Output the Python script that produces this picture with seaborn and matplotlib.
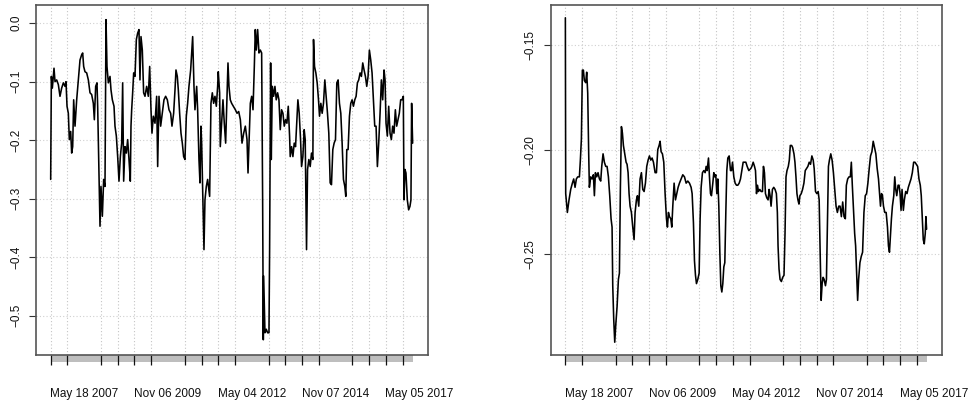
import matplotlib
matplotlib.use("Agg")
import matplotlib.pyplot as plt
import matplotlib.transforms as mtransforms
from matplotlib.patches import Rectangle
from matplotlib.ticker import FixedLocator
import pandas as pd
import seaborn as sns

# ---------------- data (decimal years, values) ----------------
left_year = [
    2006.388, 2006.408, 2006.437, 2006.486, 2006.516, 2006.565, 2006.614, 2006.663, 2006.712, 2006.762,
    2006.811, 2006.840, 2006.870, 2006.909, 2006.938, 2006.978, 2007.007, 2007.037, 2007.066, 2007.106,
    2007.155, 2007.204, 2007.253, 2007.302, 2007.332, 2007.361, 2007.400, 2007.450, 2007.499, 2007.548,
    2007.597, 2007.646, 2007.676, 2007.715, 2007.754, 2007.774, 2007.794, 2007.823, 2007.843, 2007.872,
    2007.912, 2007.951, 2007.990, 2008.020, 2008.049, 2008.089, 2008.138, 2008.167, 2008.207, 2008.256,
    2008.285, 2008.325, 2008.364, 2008.403, 2008.443, 2008.482, 2008.511, 2008.541, 2008.580, 2008.619,
    2008.659, 2008.698, 2008.737, 2008.757, 2008.777, 2008.806, 2008.836, 2008.875, 2008.915, 2008.954,
    2008.993, 2009.022, 2009.052, 2009.091, 2009.130, 2009.170, 2009.219, 2009.268, 2009.308, 2009.347,
    2009.376, 2009.416, 2009.465, 2009.514, 2009.544, 2009.583, 2009.632, 2009.681, 2009.730, 2009.779,
    2009.829, 2009.878, 2009.927, 2009.966, 2010.015, 2010.055, 2010.084, 2010.123, 2010.153, 2010.192,
    2010.232, 2010.271, 2010.310, 2010.349, 2010.389, 2010.428, 2010.467, 2010.517, 2010.546, 2010.576,
    2010.615, 2010.644, 2010.694, 2010.723, 2010.762, 2010.792, 2010.821, 2010.841, 2010.880, 2010.910,
    2010.939, 2010.979, 2011.018, 2011.077, 2011.116, 2011.156, 2011.195, 2011.234, 2011.274, 2011.313,
    2011.332, 2011.372, 2011.391, 2011.431, 2011.470, 2011.509, 2011.549, 2011.588, 2011.618, 2011.647,
    2011.686, 2011.726, 2011.775, 2011.836, 2011.885, 2011.934, 2011.983, 2012.032, 2012.081, 2012.130,
    2012.179, 2012.209, 2012.248, 2012.277, 2012.317, 2012.356, 2012.395, 2012.424, 2012.454, 2012.493,
    2012.532, 2012.572, 2012.611, 2012.640, 2012.660, 2012.670, 2012.709, 2012.748, 2012.787, 2012.827,
    2012.846, 2012.876, 2012.895, 2012.925, 2012.964, 2013.003, 2013.042, 2013.082, 2013.121, 2013.160,
    2013.199, 2013.239, 2013.278, 2013.317, 2013.356, 2013.396, 2013.435, 2013.454, 2013.494, 2013.533,
    2013.572, 2013.611, 2013.651, 2013.680, 2013.719, 2013.759, 2013.788, 2013.827, 2013.866, 2013.896,
    2013.935, 2013.965, 2014.004, 2014.043, 2014.082, 2014.122, 2014.141, 2014.171, 2014.210, 2014.249,
    2014.288, 2014.318, 2014.357, 2014.396, 2014.435, 2014.475, 2014.514, 2014.553, 2014.592, 2014.632,
    2014.671, 2014.710, 2014.749, 2014.789, 2014.828, 2014.867, 2014.906, 2014.946, 2014.985, 2015.024,
    2015.064, 2015.093, 2015.122, 2015.161, 2015.201, 2015.240, 2015.279, 2015.318, 2015.358, 2015.397,
    2015.436, 2015.475, 2015.515, 2015.554, 2015.593, 2015.632, 2015.672, 2015.711, 2015.750, 2015.789,
    2015.829, 2015.868, 2015.907, 2015.947, 2015.986, 2016.025, 2016.064, 2016.104, 2016.143, 2016.182,
    2016.221, 2016.251, 2016.280, 2016.319, 2016.359, 2016.398, 2016.437, 2016.476, 2016.515, 2016.555,
    2016.594, 2016.633, 2016.672, 2016.712, 2016.751, 2016.790, 2016.810, 2016.839, 2016.868, 2016.908,
    2016.947, 2016.986, 2017.015, 2017.035, 2017.065,
]
left_value = [
    -0.267, -0.091, -0.111, -0.077, -0.100, -0.097, -0.105, -0.125, -0.111, -0.102,
    -0.108, -0.100, -0.142, -0.154, -0.199, -0.185, -0.222, -0.211, -0.131, -0.176,
    -0.131, -0.097, -0.063, -0.054, -0.051, -0.074, -0.083, -0.085, -0.097, -0.119,
    -0.122, -0.137, -0.165, -0.108, -0.102, -0.142, -0.199, -0.290, -0.347, -0.279,
    -0.330, -0.267, -0.279, 0.006, -0.074, -0.102, -0.091, -0.114, -0.131, -0.142,
    -0.176, -0.193, -0.228, -0.270, -0.228, -0.205, -0.102, -0.270, -0.211, -0.222,
    -0.199, -0.233, -0.270, -0.176, -0.148, -0.119, -0.085, -0.091, -0.028, -0.017,
    -0.011, -0.097, -0.023, -0.046, -0.119, -0.125, -0.108, -0.125, -0.074, -0.148,
    -0.188, -0.159, -0.171, -0.125, -0.245, -0.125, -0.176, -0.154, -0.131, -0.125,
    -0.131, -0.148, -0.154, -0.176, -0.154, -0.114, -0.080, -0.091, -0.114, -0.154,
    -0.188, -0.205, -0.228, -0.233, -0.159, -0.137, -0.108, -0.080, -0.051, -0.023,
    -0.108, -0.148, -0.108, -0.148, -0.233, -0.273, -0.176, -0.205, -0.313, -0.387,
    -0.302, -0.279, -0.267, -0.296, -0.137, -0.119, -0.137, -0.125, -0.142, -0.108,
    -0.083, -0.119, -0.211, -0.171, -0.131, -0.171, -0.205, -0.125, -0.068, -0.108,
    -0.131, -0.137, -0.142, -0.148, -0.154, -0.151, -0.165, -0.205, -0.188, -0.176,
    -0.199, -0.256, -0.188, -0.137, -0.125, -0.148, -0.074, -0.011, -0.046, -0.011,
    -0.051, -0.046, -0.051, -0.302, -0.541, -0.432, -0.529, -0.523, -0.529, -0.529,
    -0.387, -0.068, -0.233, -0.108, -0.125, -0.108, -0.131, -0.119, -0.131, -0.182,
    -0.148, -0.154, -0.176, -0.165, -0.171, -0.142, -0.193, -0.228, -0.211, -0.228,
    -0.205, -0.211, -0.165, -0.131, -0.154, -0.199, -0.245, -0.228, -0.182, -0.199,
    -0.387, -0.250, -0.233, -0.245, -0.222, -0.233, -0.028, -0.074, -0.085, -0.102,
    -0.131, -0.159, -0.137, -0.154, -0.137, -0.097, -0.125, -0.154, -0.188, -0.273,
    -0.276, -0.216, -0.205, -0.199, -0.102, -0.097, -0.137, -0.154, -0.205, -0.267,
    -0.279, -0.296, -0.216, -0.216, -0.159, -0.137, -0.131, -0.142, -0.131, -0.125,
    -0.102, -0.097, -0.085, -0.091, -0.068, -0.080, -0.091, -0.108, -0.091, -0.046,
    -0.063, -0.085, -0.131, -0.176, -0.176, -0.245, -0.205, -0.154, -0.097, -0.131,
    -0.080, -0.097, -0.171, -0.193, -0.142, -0.188, -0.199, -0.176, -0.188, -0.148,
    -0.176, -0.165, -0.154, -0.131, -0.131, -0.125, -0.302, -0.250, -0.256, -0.302,
    -0.319, -0.313, -0.302, -0.137, -0.205,
]

right_year = [
    2006.388, 2006.398, 2006.447, 2006.496, 2006.546, 2006.595, 2006.634, 2006.674, 2006.713, 2006.752,
    2006.802, 2006.831, 2006.861, 2006.890, 2006.920, 2006.949, 2006.989, 2007.018, 2007.048, 2007.077,
    2007.097, 2007.137, 2007.176, 2007.215, 2007.245, 2007.275, 2007.314, 2007.353, 2007.393, 2007.432,
    2007.462, 2007.501, 2007.540, 2007.580, 2007.619, 2007.659, 2007.698, 2007.737, 2007.767, 2007.787,
    2007.816, 2007.846, 2007.875, 2007.915, 2007.954, 2007.984, 2008.013, 2008.043, 2008.072, 2008.102,
    2008.141, 2008.181, 2008.210, 2008.240, 2008.269, 2008.299, 2008.338, 2008.378, 2008.417, 2008.447,
    2008.486, 2008.516, 2008.555, 2008.594, 2008.634, 2008.673, 2008.713, 2008.752, 2008.791, 2008.831,
    2008.870, 2008.910, 2008.949, 2008.989, 2009.038, 2009.077, 2009.116, 2009.156, 2009.185, 2009.215,
    2009.254, 2009.294, 2009.333, 2009.373, 2009.402, 2009.432, 2009.461, 2009.501, 2009.530, 2009.560,
    2009.599, 2009.639, 2009.678, 2009.717, 2009.757, 2009.806, 2009.855, 2009.905, 2009.954, 2010.003,
    2010.052, 2010.101, 2010.131, 2010.170, 2010.200, 2010.230, 2010.259, 2010.298, 2010.338, 2010.367,
    2010.397, 2010.436, 2010.476, 2010.515, 2010.545, 2010.574, 2010.614, 2010.643, 2010.673, 2010.702,
    2010.742, 2010.771, 2010.801, 2010.830, 2010.860, 2010.889, 2010.919, 2010.949, 2010.978, 2011.008,
    2011.037, 2011.067, 2011.096, 2011.126, 2011.155, 2011.185, 2011.224, 2011.264, 2011.293, 2011.323,
    2011.362, 2011.401, 2011.441, 2011.480, 2011.520, 2011.559, 2011.599, 2011.638, 2011.677, 2011.717,
    2011.756, 2011.805, 2011.865, 2011.895, 2011.934, 2011.973, 2012.002, 2012.032, 2012.061, 2012.090,
    2012.129, 2012.169, 2012.208, 2012.237, 2012.267, 2012.296, 2012.335, 2012.374, 2012.404, 2012.433,
    2012.462, 2012.502, 2012.541, 2012.580, 2012.619, 2012.648, 2012.668, 2012.697, 2012.727, 2012.766,
    2012.805, 2012.844, 2012.874, 2012.903, 2012.932, 2012.971, 2013.001, 2013.030, 2013.069, 2013.099,
    2013.138, 2013.167, 2013.197, 2013.226, 2013.255, 2013.285, 2013.314, 2013.353, 2013.392, 2013.432,
    2013.471, 2013.510, 2013.549, 2013.588, 2013.627, 2013.667, 2013.706, 2013.735, 2013.774, 2013.813,
    2013.853, 2013.882, 2013.911, 2013.941, 2013.970, 2013.999, 2014.029, 2014.068, 2014.097, 2014.127,
    2014.156, 2014.185, 2014.225, 2014.264, 2014.303, 2014.342, 2014.381, 2014.420, 2014.460, 2014.499,
    2014.538, 2014.577, 2014.616, 2014.655, 2014.685, 2014.724, 2014.763, 2014.802, 2014.832, 2014.861,
    2014.900, 2014.930, 2014.959, 2014.988, 2015.018, 2015.047, 2015.086, 2015.125, 2015.164, 2015.204,
    2015.243, 2015.282, 2015.321, 2015.360, 2015.399, 2015.439, 2015.478, 2015.517, 2015.556, 2015.595,
    2015.634, 2015.664, 2015.693, 2015.723, 2015.752, 2015.781, 2015.820, 2015.860, 2015.899, 2015.928,
    2015.958, 2015.987, 2016.016, 2016.045, 2016.085, 2016.114, 2016.143, 2016.173, 2016.212, 2016.241,
    2016.271, 2016.300, 2016.329, 2016.368, 2016.398, 2016.437, 2016.476, 2016.515, 2016.555, 2016.594,
    2016.633, 2016.672, 2016.711, 2016.750, 2016.790, 2016.829, 2016.868, 2016.897, 2016.927, 2016.956,
    2016.985, 2017.015, 2017.034, 2017.054,
]
right_value = [
    -0.137, -0.221, -0.230, -0.224, -0.219, -0.216, -0.214, -0.218, -0.214, -0.213,
    -0.213, -0.205, -0.195, -0.162, -0.162, -0.167, -0.168, -0.163, -0.173, -0.202,
    -0.218, -0.213, -0.214, -0.212, -0.222, -0.211, -0.213, -0.211, -0.214, -0.215,
    -0.208, -0.202, -0.206, -0.208, -0.208, -0.213, -0.222, -0.233, -0.237, -0.265,
    -0.281, -0.292, -0.284, -0.275, -0.262, -0.259, -0.218, -0.189, -0.192, -0.198,
    -0.202, -0.206, -0.207, -0.211, -0.221, -0.227, -0.230, -0.237, -0.243, -0.230,
    -0.224, -0.222, -0.227, -0.214, -0.211, -0.219, -0.220, -0.216, -0.208, -0.205,
    -0.203, -0.205, -0.204, -0.206, -0.211, -0.211, -0.200, -0.198, -0.196, -0.201,
    -0.202, -0.206, -0.221, -0.233, -0.237, -0.230, -0.232, -0.233, -0.237, -0.227,
    -0.216, -0.224, -0.221, -0.218, -0.216, -0.214, -0.212, -0.213, -0.216, -0.215,
    -0.216, -0.218, -0.221, -0.235, -0.253, -0.260, -0.264, -0.262, -0.259, -0.233,
    -0.218, -0.211, -0.210, -0.211, -0.208, -0.210, -0.204, -0.213, -0.221, -0.222,
    -0.216, -0.211, -0.213, -0.212, -0.221, -0.214, -0.227, -0.249, -0.265, -0.268,
    -0.264, -0.256, -0.254, -0.230, -0.210, -0.204, -0.203, -0.210, -0.210, -0.206,
    -0.213, -0.216, -0.217, -0.217, -0.216, -0.214, -0.210, -0.206, -0.206, -0.206,
    -0.208, -0.210, -0.209, -0.208, -0.206, -0.208, -0.210, -0.221, -0.217, -0.220,
    -0.219, -0.220, -0.220, -0.208, -0.211, -0.221, -0.223, -0.224, -0.219, -0.222,
    -0.227, -0.219, -0.218, -0.219, -0.221, -0.230, -0.246, -0.257, -0.262, -0.263,
    -0.261, -0.260, -0.240, -0.213, -0.210, -0.208, -0.205, -0.198, -0.198, -0.199,
    -0.202, -0.206, -0.213, -0.221, -0.224, -0.226, -0.222, -0.221, -0.219, -0.216,
    -0.210, -0.209, -0.208, -0.206, -0.207, -0.203, -0.205, -0.209, -0.220, -0.221,
    -0.220, -0.224, -0.249, -0.272, -0.264, -0.261, -0.262, -0.265, -0.262, -0.233,
    -0.208, -0.205, -0.202, -0.205, -0.211, -0.219, -0.227, -0.230, -0.227, -0.227,
    -0.232, -0.225, -0.232, -0.233, -0.217, -0.214, -0.213, -0.213, -0.206, -0.217,
    -0.230, -0.240, -0.246, -0.259, -0.272, -0.262, -0.254, -0.251, -0.249, -0.230,
    -0.222, -0.221, -0.216, -0.209, -0.203, -0.201, -0.196, -0.199, -0.202, -0.209,
    -0.214, -0.221, -0.227, -0.221, -0.222, -0.227, -0.230, -0.230, -0.237, -0.246,
    -0.249, -0.241, -0.233, -0.227, -0.222, -0.213, -0.219, -0.222, -0.217, -0.217,
    -0.221, -0.229, -0.219, -0.229, -0.224, -0.220, -0.221, -0.218, -0.216, -0.214,
    -0.211, -0.206, -0.206, -0.207, -0.208, -0.214, -0.217, -0.222, -0.233, -0.243,
    -0.245, -0.240, -0.232, -0.238,
]

x_tick_labels = ["May 18 2007", "Nov 06 2009", "May 04 2012", "Nov 07 2014", "May 05 2017"]
label_slots = [2, 7, 12, 17, 22]
left_yticks = [0.0, -0.1, -0.2, -0.3, -0.4, -0.5]
left_yticklabels = ["0.0", "\u22120.1", "\u22120.2", "\u22120.3", "\u22120.4", "\u22120.5"]
right_yticks = [-0.15, -0.20, -0.25]
right_yticklabels = ["\u22120.15", "\u22120.20", "\u22120.25"]

# ---------------- style ----------------
sns.set_style("white")
plt.rcParams["font.family"] = ["Liberation Sans", "DejaVu Sans"]

W, H = 969, 405
fig = plt.figure(figsize=(W / 100, H / 100), dpi=100)
ax1 = fig.add_axes([36 / W, 50 / H, 392 / W, 350 / H])
ax2 = fig.add_axes([550.7 / W, 50 / H, 391.6 / W, 350 / H])

grid_start, grid_step = 2006.388, 0.4944
grid_pos = [grid_start + grid_step * i for i in range(22)]
label_pos = [grid_start + grid_step * i for i in label_slots]


def draw(ax, yrs, vals, ylim, yticks, yticklabels):
    df = pd.DataFrame({"year": yrs, "value": vals})
    sns.lineplot(data=df, x="year", y="value", ax=ax, color="#000000",
                 linewidth=1.15, estimator=None, sort=False)
    ax.set_xlim(2005.955, 2017.518)
    ax.set_ylim(*ylim)
    ax.set_xlabel("")
    ax.set_ylabel("")

    ax.grid(False)
    ax.xaxis.set_major_locator(FixedLocator(label_pos))
    ax.set_xticklabels(x_tick_labels)
    ax.xaxis.set_minor_locator(FixedLocator(grid_pos))
    ax.tick_params(axis="x", which="major", length=0, pad=24, labelsize=8.5,
                   labelcolor="#111111")
    ax.tick_params(axis="x", which="minor", bottom=True, length=7, width=0.9,
                   color="#111111", direction="out")

    ax.set_yticks(yticks)
    ax.set_yticklabels(yticklabels, rotation=90, va="center")
    ax.tick_params(axis="y", which="major", left=True, length=5, width=0.8,
                   color="#333333", pad=5, labelsize=8.5, labelcolor="#111111")

    ax.grid(which="minor", axis="x", color="#c4c4c4", linestyle=(0, (1, 2)), linewidth=0.8)
    ax.grid(which="major", axis="y", color="#d0d0d0", linestyle=(0, (1, 2)), linewidth=0.8)

    for sp in ax.spines.values():
        sp.set_visible(True)
        sp.set_color("#555555")
        sp.set_linewidth(1.2)

    trans = mtransforms.blended_transform_factory(ax.transData, ax.transAxes)
    bar_h = 7 / 350
    ax.add_patch(Rectangle((yrs[0], -bar_h), yrs[-1] - yrs[0], bar_h, transform=trans,
                           clip_on=False, facecolor="#bebebe", edgecolor="none", zorder=0))


draw(ax1, left_year, left_value, (-0.567, 0.031), left_yticks, left_yticklabels)
draw(ax2, right_year, right_value, (-0.2981, -0.1309), right_yticks, right_yticklabels)

fig.savefig("out.png", dpi=100)
